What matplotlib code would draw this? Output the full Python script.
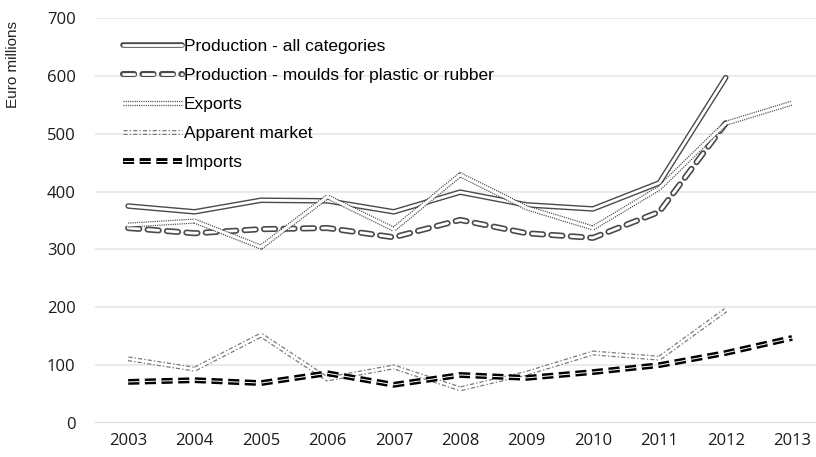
import matplotlib.pyplot as plt
import numpy as np
from matplotlib.legend_handler import HandlerTuple

plt.rcParams['lines.scale_dashes'] = False

years = ["2003", "2004", "2005", "2006", "2007", "2008", "2009", "2010", "2011", "2012", "2013"]
production_all = [375, 365, 385, 384, 365, 399, 377, 370, 415, 597, np.nan]
production_moulds = [337, 328, 335, 337, 321, 351, 328, 320, 365, 518, np.nan]
exports = [342, 349, 304, 391, 335, 429, 372, 337, 406, 518, 553]
apparent_market = [111, 93, 152, 76, 97, 59, 86, 121, 112, 195, np.nan]
imports = [71, 74, 69, 86, 66, 83, 78, 88, 100, 121, 147]

x = np.arange(len(years))

fig = plt.figure(figsize=(8.16, 4.57), dpi=100)
ax = fig.add_axes([95 / 816, 1 - 423 / 457, 721 / 816, 405 / 457])

# double lines: dark outline then white core
def double_line(y, outer, inner):
    a, = ax.plot(x, y, **outer)
    b, = ax.plot(x, y, **inner)
    return (a, b)

h1 = double_line(production_all,
                 dict(color="#4a4a4a", lw=4.0, solid_capstyle="round", solid_joinstyle="round"),
                 dict(color="white", lw=2.0, solid_capstyle="round", solid_joinstyle="round"))
h2 = double_line(production_moulds,
                 dict(color="#4a4a4a", lw=4.4, dashes=(8, 6), dash_capstyle="round"),
                 dict(color="white", lw=2.0, dashes=(8, 6), dash_capstyle="round"))
h3 = double_line(exports,
                 dict(color="#4a4a4a", lw=3.8, dashes=(0.8, 0.8)),
                 dict(color="white", lw=2.0))
h4 = double_line(apparent_market,
                 dict(color="#7a7a7a", lw=3.6, dashes=(3, 1.5, 1, 1.5)),
                 dict(color="white", lw=1.8))
h5 = double_line(imports,
                 dict(color="black", lw=4.2, dashes=(8, 4)),
                 dict(color="white", lw=0.7, dashes=(8, 4)))

ax.set_xlim(-0.5, 10.36)
ax.set_ylim(0, 700)
ax.set_xticks(x)
ax.set_xticklabels(years)
ax.set_yticks(range(0, 701, 100))
for s in ax.spines.values():
    s.set_visible(False)
ax.tick_params(length=0, labelsize=12, labelcolor="#1a1a1a")
ax.tick_params(axis="y", pad=14)
ax.tick_params(axis="x", pad=7)
for lab in ax.get_xticklabels() + ax.get_yticklabels():
    lab.set_family("Open Sans")

for v in range(100, 701, 100):
    ax.axhline(v, color="#e6e6e6", lw=1.2, zorder=0)
ax.axhline(0, color="#cfcfcf", lw=1.8, zorder=0)

fig.text(13 / 816, 1 - 21 / 457, "Euro millions", rotation=90, va="top", ha="center",
         fontsize=11, family="Liberation Sans", color="#222222")

ax.legend([h1, h2, h3, h4, h5],
          ["Production - all categories", "Production - moulds for plastic or rubber",
           "Exports", "Apparent market", "Imports"],
          handler_map={tuple: HandlerTuple(ndivide=1, pad=0)},
          loc="upper left", bbox_to_anchor=(0.039, 0.948), frameon=False,
          borderpad=0, borderaxespad=0, handlelength=3.4, handletextpad=0.1,
          labelspacing=0.8, prop={"family": "Liberation Sans", "size": 12.5})

fig.savefig("out.png", dpi=100)
